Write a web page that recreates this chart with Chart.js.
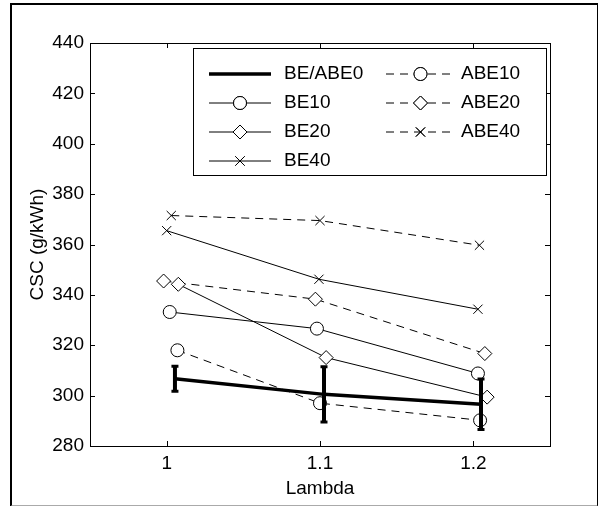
<!DOCTYPE html>
<html lang="en">
<head>
<meta charset="UTF-8">
<title>CSC vs Lambda</title>
<script src="https://cdn.jsdelivr.net/npm/chart.js"></script>
<style>
    body { margin: 0; padding: 0; background: #fff; }
    #wrap { position: relative; width: 598px; height: 506px; }
    #frame {
        position: absolute; left: 10px; top: 3px; width: 585px; height: 500px;
        border-left: 2px solid #000; border-top: 2px solid #000;
        border-right: 1px solid #000; border-bottom: 2px solid #aaa;
        pointer-events: none;
    }
    canvas { position: absolute; left: 0; top: 0; }
</style>
</head>
<body>
<div id="wrap">
    <canvas id="chart" width="598" height="506"></canvas>
    <div id="frame"></div>
</div>
<script>
// x ticks and y ticks
const lambdaTicks = [1, 1.1, 1.2];
const cscMin = 280, cscMax = 440, cscStep = 20;

// each series: lambda (slightly jittered in the original) and CSC values
const be0X = [1.0054, 1.1026, 1.205];
const be0Y = [306.7, 300.5, 296.6];
const be0Err = [5, 11, 10];
const be10X = [1.002, 1.098, 1.203];
const be10Y = [333.2, 326.6, 308.8];
const be20X = [1.0076, 1.104, 1.209];
const be20Y = [344.2, 315.1, 299.4];
const be40X = [1.0, 1.0993, 1.203];
const be40Y = [365.5, 346.2, 334.3];
const abe10X = [1.007, 1.1, 1.2044];
const abe10Y = [318, 297, 290.2];
const abe20X = [0.998, 1.097, 1.2075];
const abe20Y = [345.5, 338.3, 316.7];
const abe40X = [1.003, 1.1, 1.204];
const abe40Y = [371.5, 369.5, 359.7];

const FONT = '"Liberation Sans", Arial, sans-serif';
const DASH = [8, 6];

function pts(xs, ys) {
    return xs.map((x, i) => ({x: x, y: ys[i]}));
}

function series(label, xs, ys, style, dashed, radius) {
    return {
        label: label,
        data: pts(xs, ys),
        borderColor: '#000',
        borderWidth: 1,
        borderDash: dashed ? DASH : [],
        pointStyle: style,
        pointRadius: radius,
        pointBackgroundColor: '#fff',
        pointBorderColor: '#000',
        pointBorderWidth: 1,
        tension: 0
    };
}

const datasets = [
    {label: 'BE/ABE0', data: pts(be0X, be0Y), borderColor: '#000', borderWidth: 3.5, pointRadius: 0, pointStyle: false, borderDash: []},
    series('BE10', be10X, be10Y, 'circle', false, 6.5),
    series('BE20', be20X, be20Y, 'rectRot', false, 7),
    series('BE40', be40X, be40Y, 'crossRot', false, 6.5),
    series('ABE10', abe10X, abe10Y, 'circle', true, 6.5),
    series('ABE20', abe20X, abe20Y, 'rectRot', true, 7),
    series('ABE40', abe40X, abe40Y, 'crossRot', true, 6.5)
];

// box + inward tick marks, MATLAB style
const axesBox = {
    id: 'axesBox',
    beforeDatasetsDraw(chart) {
        const {ctx, chartArea: a, scales: {x, y}} = chart;
        ctx.save();
        ctx.strokeStyle = '#000';
        ctx.lineWidth = 1;
        ctx.strokeRect(a.left + 0.5, a.top + 0.5, a.right - a.left, a.bottom - a.top);
        ctx.beginPath();
        lambdaTicks.forEach(v => {
            const px = Math.round(x.getPixelForValue(v)) + 0.5;
            ctx.moveTo(px, a.bottom); ctx.lineTo(px, a.bottom - 5);
            ctx.moveTo(px, a.top); ctx.lineTo(px, a.top + 5);
        });
        for (let v = cscMin; v <= cscMax; v += cscStep) {
            const py = Math.round(y.getPixelForValue(v)) + 0.5;
            ctx.moveTo(a.left, py); ctx.lineTo(a.left + 5, py);
            ctx.moveTo(a.right, py); ctx.lineTo(a.right - 5, py);
        }
        ctx.stroke();
        ctx.restore();
    }
};

const errorBars = {
    id: 'errorBars',
    afterDatasetsDraw(chart) {
        const {ctx, scales: {x, y}} = chart;
        ctx.save();
        ctx.strokeStyle = '#000';
        be0X.forEach((v, i) => {
            const px = x.getPixelForValue(v);
            const top = y.getPixelForValue(be0Y[i] + be0Err[i]);
            const bot = y.getPixelForValue(be0Y[i] - be0Err[i]);
            ctx.lineWidth = 4;
            ctx.beginPath();
            ctx.moveTo(px, top); ctx.lineTo(px, bot);
            ctx.stroke();
            ctx.lineWidth = 3;
            ctx.beginPath();
            ctx.moveTo(px - 3.5, top); ctx.lineTo(px + 3.5, top);
            ctx.moveTo(px - 3.5, bot); ctx.lineTo(px + 3.5, bot);
            ctx.stroke();
        });
        ctx.restore();
    }
};

// legend inside the axes, two columns
const legendBox = {left: 193, top: 48, right: 546, bottom: 175};
const legendRows = [74, 103, 132, 161];
const legendCols = [
    {x0: 209, x1: 271, tx: 284, items: [0, 1, 2, 3]},
    {x0: 386, x1: 455, tx: 461, items: [4, 5, 6]}
];

const boxLegend = {
    id: 'boxLegend',
    afterDraw(chart) {
        const ctx = chart.ctx;
        ctx.save();
        ctx.fillStyle = '#fff';
        ctx.fillRect(legendBox.left, legendBox.top, legendBox.right - legendBox.left, legendBox.bottom - legendBox.top);
        ctx.strokeStyle = '#000';
        ctx.lineWidth = 1;
        ctx.strokeRect(legendBox.left + 0.5, legendBox.top + 0.5, legendBox.right - legendBox.left, legendBox.bottom - legendBox.top);
        legendCols.forEach(col => {
            col.items.forEach((di, r) => {
                const ds = chart.data.datasets[di];
                const yy = legendRows[r];
                ctx.strokeStyle = '#000';
                ctx.lineWidth = ds.borderWidth;
                ctx.setLineDash(ds.borderDash || []);
                ctx.beginPath();
                ctx.moveTo(col.x0, yy); ctx.lineTo(col.x1, yy);
                ctx.stroke();
                ctx.setLineDash([]);
                if (ds.pointStyle) {
                    ctx.fillStyle = '#fff';
                    Chart.helpers.drawPoint(ctx, {pointStyle: ds.pointStyle, radius: ds.pointRadius, borderWidth: 1, rotation: 0},
                        (col.x0 + col.x1) / 2, yy);
                    ctx.fill();
                    ctx.stroke();
                }
                ctx.fillStyle = '#000';
                ctx.font = '19px ' + FONT;
                ctx.textBaseline = 'middle';
                ctx.textAlign = 'left';
                ctx.fillText(ds.label, col.tx, yy);
            });
        });
        ctx.restore();
    }
};

new Chart(document.getElementById('chart'), {
    type: 'line',
    data: {datasets: datasets},
    plugins: [axesBox, errorBars, boxLegend],
    options: {
        responsive: false,
        animation: false,
        layout: {padding: {left: 0, top: 43, right: 48, bottom: 0}},
        plugins: {legend: {display: false}, tooltip: {enabled: false}},
        scales: {
            x: {
                type: 'linear',
                min: 0.95,
                max: 1.25,
                afterBuildTicks: s => { s.ticks = lambdaTicks.map(v => ({value: v})); },
                afterFit: s => { s.height = 60; },
                grid: {display: false, drawTicks: false},
                border: {display: false},
                ticks: {color: '#000', font: {family: FONT, size: 19}, padding: 6, callback: v => String(v)},
                title: {display: true, text: 'Lambda', color: '#000', font: {family: FONT, size: 19}, padding: {top: 0, bottom: 6}}
            },
            y: {
                min: cscMin,
                max: cscMax,
                afterFit: s => { s.width = 90; },
                grid: {display: false, drawTicks: false},
                border: {display: false},
                ticks: {stepSize: cscStep, color: '#000', font: {family: FONT, size: 19}, padding: 6},
                title: {display: true, text: 'CSC (g/kWh)', color: '#000', font: {family: FONT, size: 19}, padding: {top: 26, bottom: 0}}
            }
        }
    }
});
</script>
</body>
</html>
